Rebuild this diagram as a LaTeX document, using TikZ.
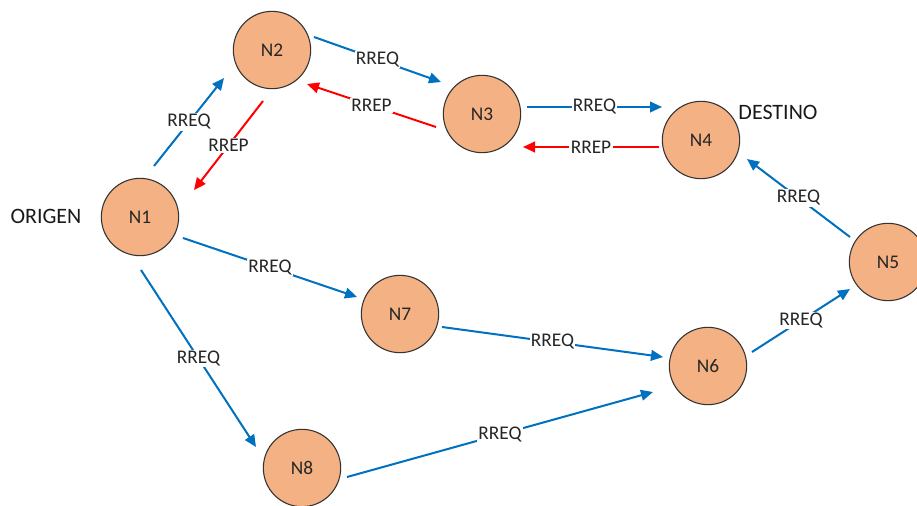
\documentclass[tikz,border=0pt]{standalone}
\usepackage{fontspec}
\setmainfont{Carlito}
\usetikzlibrary{arrows.meta}

\definecolor{peach}{HTML}{F4B183}
\definecolor{reqblue}{HTML}{0070C0}
\definecolor{repred}{HTML}{FF0000}

\begin{document}
\begin{tikzpicture}[
    x=0.75pt, y=-0.75pt,
    nodo/.style={circle, draw=black!80, line width=0.8pt, fill=peach, minimum size=58pt, inner sep=0pt, outer sep=0pt, text=black!85, font=\fontsize{14.5}{16}\selectfont},
    req/.style={-{Triangle[length=9pt, width=8pt]}, draw=reqblue, fill=reqblue, line width=1.5pt},
    rep/.style={-{Triangle[length=9pt, width=8pt]}, draw=repred, fill=repred, line width=1.5pt},
    lbl/.style={fill=white, inner sep=1pt, text=black!85, font=\fontsize{14.5}{16}\selectfont},
    etiqueta/.style={text=black!90, font=\fontsize{16.5}{18}\selectfont}
]
\useasboundingbox (0,0) rectangle (917,506);

% Nodes
\node[nodo] (n1) at (140,217) {N1};
\node[nodo] (n2) at (272,50) {N2};
\node[nodo] (n3) at (482,114) {N3};
\node[nodo] (n4) at (701,140) {N4};
\node[nodo] (n5) at (888,262) {N5};
\node[nodo] (n6) at (708,366) {N6};
\node[nodo] (n7) at (400,314) {N7};
\node[nodo] (n8) at (302,468) {N8};

% Labels
\node[etiqueta] (origen) at (46,216) {ORIGEN};
\node[etiqueta] (destino) at (778,112) {DESTINO};

% Route request
\draw[req] ([shift={(14,-51)}]n1.center) -- node[lbl] {RREQ} ([shift={(-48,28)}]n2.center);
\draw[req] ([shift={(42,-13)}]n2.center) -- node[lbl] {RREQ} ([shift={(-41,-32)}]n3.center);
\draw[req] ([shift={(45,-7)}]n3.center) -- node[lbl] {RREQ} ([shift={(-39,-33)}]n4.center);
\draw[req] ([shift={(-38,-25)}]n5.center) -- node[lbl] {RREQ} ([shift={(46,19)}]n4.center);
\draw[req] ([shift={(44,-14)}]n6.center) -- node[lbl] {RREQ} ([shift={(-38,27)}]n5.center);
\draw[req] ([shift={(42,13)}]n7.center) -- node[lbl] {RREQ} ([shift={(-45,-9)}]n6.center);
\draw[req] ([shift={(45,9)}]n8.center) -- node[lbl] {RREQ} ([shift={(-55,26)}]n6.center);
\draw[req] ([shift={(43,21)}]n1.center) -- node[lbl] {RREQ} ([shift={(-43,-17)}]n7.center);
\draw[req] ([shift={(1,53)}]n1.center) -- node[lbl] {RREQ} ([shift={(-46,-21)}]n8.center);

% Route reply
\draw[rep] ([shift={(-42,7)}]n4.center) -- node[lbl] {RREP} ([shift={(41,33)}]n3.center);
\draw[rep] ([shift={(-46,13)}]n3.center) -- node[lbl] {RREP} ([shift={(35,34)}]n2.center);
\draw[rep] ([shift={(-9,51)}]n2.center) -- node[lbl] {RREP} ([shift={(54,-27)}]n1.center);

\end{tikzpicture}
\end{document}
